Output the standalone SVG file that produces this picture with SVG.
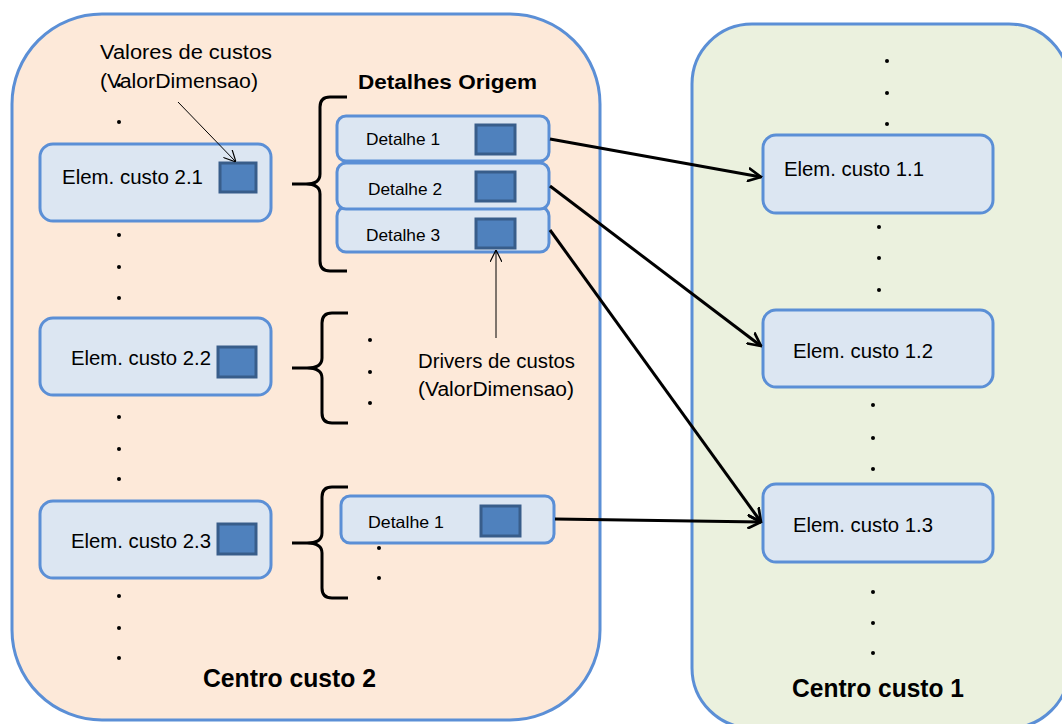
<svg xmlns="http://www.w3.org/2000/svg" width="1062" height="724" viewBox="0 0 1062 724">
<defs>
<style>
.t{font-family:"Liberation Sans",Arial,sans-serif;fill:#000}
.b{font-family:"Liberation Sans",Arial,sans-serif;font-weight:bold;fill:#000}
.box{fill:#DCE6F2;stroke:#5B8FD6;stroke-width:3}
.sq{fill:#4F81BD;stroke:#385D8A;stroke-width:3}
.brace{fill:none;stroke:#000;stroke-width:3}
.dot{fill:#000}
.con{fill:none;stroke:#000;stroke-width:3}
.thin{fill:none;stroke:#000;stroke-width:1}
</style>
<marker id="ah" markerWidth="15" markerHeight="15" refX="9" refY="5" orient="auto" markerUnits="userSpaceOnUse" viewBox="0 0 10 10">
<path d="M0,0.5 L9,5 L0,9.5" fill="none" stroke="#000" stroke-width="1.8"/>
</marker>
<marker id="ahs" markerWidth="12" markerHeight="12" refX="10" refY="5" orient="auto" markerUnits="userSpaceOnUse" viewBox="0 0 10 10">
<path d="M0,0 L10,5 L0,10" fill="none" stroke="#000" stroke-width="1"/>
</marker>
</defs>
<rect width="1062" height="724" fill="#fff"/>

<g id="centro2">
<rect x="12" y="14" width="588" height="706" rx="90" ry="90" fill="#FDE9D9" stroke="#5B8FD6" stroke-width="3"/>
<text class="b" x="203" y="687" font-size="25" textLength="173" lengthAdjust="spacingAndGlyphs">Centro custo 2</text>
<g class="dot">
<circle cx="119" cy="85" r="2"/><circle cx="119" cy="122" r="2"/>
<circle cx="119" cy="235" r="2"/><circle cx="119" cy="267" r="2"/><circle cx="119" cy="298" r="2"/>
<circle cx="119" cy="417" r="2"/><circle cx="119" cy="449" r="2"/><circle cx="119" cy="479" r="2"/>
<circle cx="119" cy="596" r="2"/><circle cx="119" cy="628" r="2"/><circle cx="119" cy="658" r="2"/>
</g>
</g>

<g id="centro1">
<rect x="692" y="24" width="377" height="704" rx="60" ry="60" fill="#EBF1DE" stroke="#5B8FD6" stroke-width="3"/>
<text class="b" x="792" y="697" font-size="25" textLength="172" lengthAdjust="spacingAndGlyphs">Centro custo 1</text>
<g class="dot">
<circle cx="887" cy="61" r="2"/><circle cx="887" cy="93" r="2"/><circle cx="887" cy="124" r="2"/>
<circle cx="879" cy="227" r="2"/><circle cx="879" cy="258" r="2"/><circle cx="879" cy="290" r="2"/>
<circle cx="873" cy="405" r="2"/><circle cx="873" cy="438" r="2"/><circle cx="873" cy="469" r="2"/>
<circle cx="873" cy="592" r="2"/><circle cx="873" cy="623" r="2"/><circle cx="873" cy="653" r="2"/>
</g>
</g>

<g id="elem21">
<rect class="box" x="40" y="144" width="231" height="77" rx="13"/>
<text class="t" x="62" y="184" font-size="20.5" textLength="141" lengthAdjust="spacingAndGlyphs">Elem. custo 2.1</text>
<rect class="sq" x="220" y="163" width="36" height="29"/>
</g>
<g id="elem22">
<rect class="box" x="40" y="318" width="231" height="77" rx="13"/>
<text class="t" x="71" y="365" font-size="20.5" textLength="140" lengthAdjust="spacingAndGlyphs">Elem. custo 2.2</text>
<rect class="sq" x="218" y="347" width="38" height="30"/>
</g>
<g id="elem23">
<rect class="box" x="40" y="501" width="231" height="77" rx="13"/>
<text class="t" x="71" y="548" font-size="20.5" textLength="140" lengthAdjust="spacingAndGlyphs">Elem. custo 2.3</text>
<rect class="sq" x="218" y="524" width="38" height="30"/>
</g>

<g id="valores-label">
<text class="t" x="100" y="59" font-size="20" textLength="172" lengthAdjust="spacingAndGlyphs">Valores de custos</text>
<text class="t" x="100" y="88" font-size="20" textLength="158" lengthAdjust="spacingAndGlyphs">(ValorDimensao)</text>
</g>

<g id="detalhes-origem">
<text class="b" x="358" y="89" font-size="20.5" textLength="179" lengthAdjust="spacingAndGlyphs">Detalhes Origem</text>
<path class="brace" d="M347,97 H330 Q320,97 320,107 V174 Q320,184 306,184 H292 M306,184 Q320,184 320,194 V261 Q320,271 330,271 H347"/>
</g>

<g id="detalhe3">
<rect class="box" x="337" y="207" width="212" height="45" rx="9"/>
<text class="t" x="366" y="241" font-size="16.5" textLength="74" lengthAdjust="spacingAndGlyphs">Detalhe 3</text>
<rect class="sq" x="476" y="219" width="39" height="29"/>
</g>
<g id="detalhe2">
<rect class="box" x="337" y="163" width="212" height="46" rx="9"/>
<text class="t" x="368" y="195" font-size="16.5" textLength="74" lengthAdjust="spacingAndGlyphs">Detalhe 2</text>
<rect class="sq" x="476" y="172" width="39" height="29"/>
</g>
<g id="detalhe1">
<rect class="box" x="337" y="116" width="212" height="45" rx="9"/>
<text class="t" x="366" y="145" font-size="16.5" textLength="74" lengthAdjust="spacingAndGlyphs">Detalhe 1</text>
<rect class="sq" x="476" y="125" width="39" height="29"/>
</g>

<g id="brace2">
<path class="brace" d="M348,313 H332 Q322,313 322,323 V358 Q322,368 307,368 H292 M307,368 Q322,368 322,378 V413 Q322,423 332,423 H348"/>
<g class="dot"><circle cx="370" cy="340" r="2"/><circle cx="370" cy="372" r="2"/><circle cx="370" cy="403" r="2"/></g>
</g>

<g id="drivers-label">
<text class="t" x="418" y="368" font-size="20" textLength="157" lengthAdjust="spacingAndGlyphs">Drivers de custos</text>
<text class="t" x="418" y="396" font-size="20" textLength="156" lengthAdjust="spacingAndGlyphs">(ValorDimensao)</text>
</g>

<g id="brace3">
<path class="brace" d="M348,487 H332 Q322,487 322,497 V533 Q322,543 307,543 H292 M307,543 Q322,543 322,553 V588 Q322,598 332,598 H348"/>
<g class="dot"><circle cx="379" cy="548" r="2"/><circle cx="379" cy="578" r="2"/></g>
</g>

<g id="detalhe1b">
<rect class="box" x="341" y="496" width="213" height="47" rx="9"/>
<text class="t" x="368" y="528" font-size="16.5" textLength="76" lengthAdjust="spacingAndGlyphs">Detalhe 1</text>
<rect class="sq" x="481" y="506" width="39" height="30"/>
</g>

<g id="elem11">
<rect class="box" x="763" y="135" width="230" height="78" rx="13"/>
<text class="t" x="784" y="176" font-size="20.5" textLength="140" lengthAdjust="spacingAndGlyphs">Elem. custo 1.1</text>
</g>
<g id="elem12">
<rect class="box" x="763" y="310" width="230" height="77" rx="13"/>
<text class="t" x="793" y="358" font-size="20.5" textLength="140" lengthAdjust="spacingAndGlyphs">Elem. custo 1.2</text>
</g>
<g id="elem13">
<rect class="box" x="763" y="484" width="230" height="78" rx="13"/>
<text class="t" x="793" y="532" font-size="20.5" textLength="140" lengthAdjust="spacingAndGlyphs">Elem. custo 1.3</text>
</g>

<g id="connectors">
<line class="con" x1="550" y1="139" x2="761" y2="177" marker-end="url(#ah)"/>
<line class="con" x1="550" y1="186" x2="761" y2="346" marker-end="url(#ah)"/>
<line class="con" x1="550" y1="230" x2="761" y2="522" marker-end="url(#ah)"/>
<line class="con" x1="555" y1="519" x2="761" y2="522" marker-end="url(#ah)"/>
<line class="thin" x1="178" y1="102" x2="236" y2="162" marker-end="url(#ahs)"/>
<line class="thin" x1="496" y1="338" x2="496" y2="250" marker-end="url(#ahs)"/>
</g>
</svg>
